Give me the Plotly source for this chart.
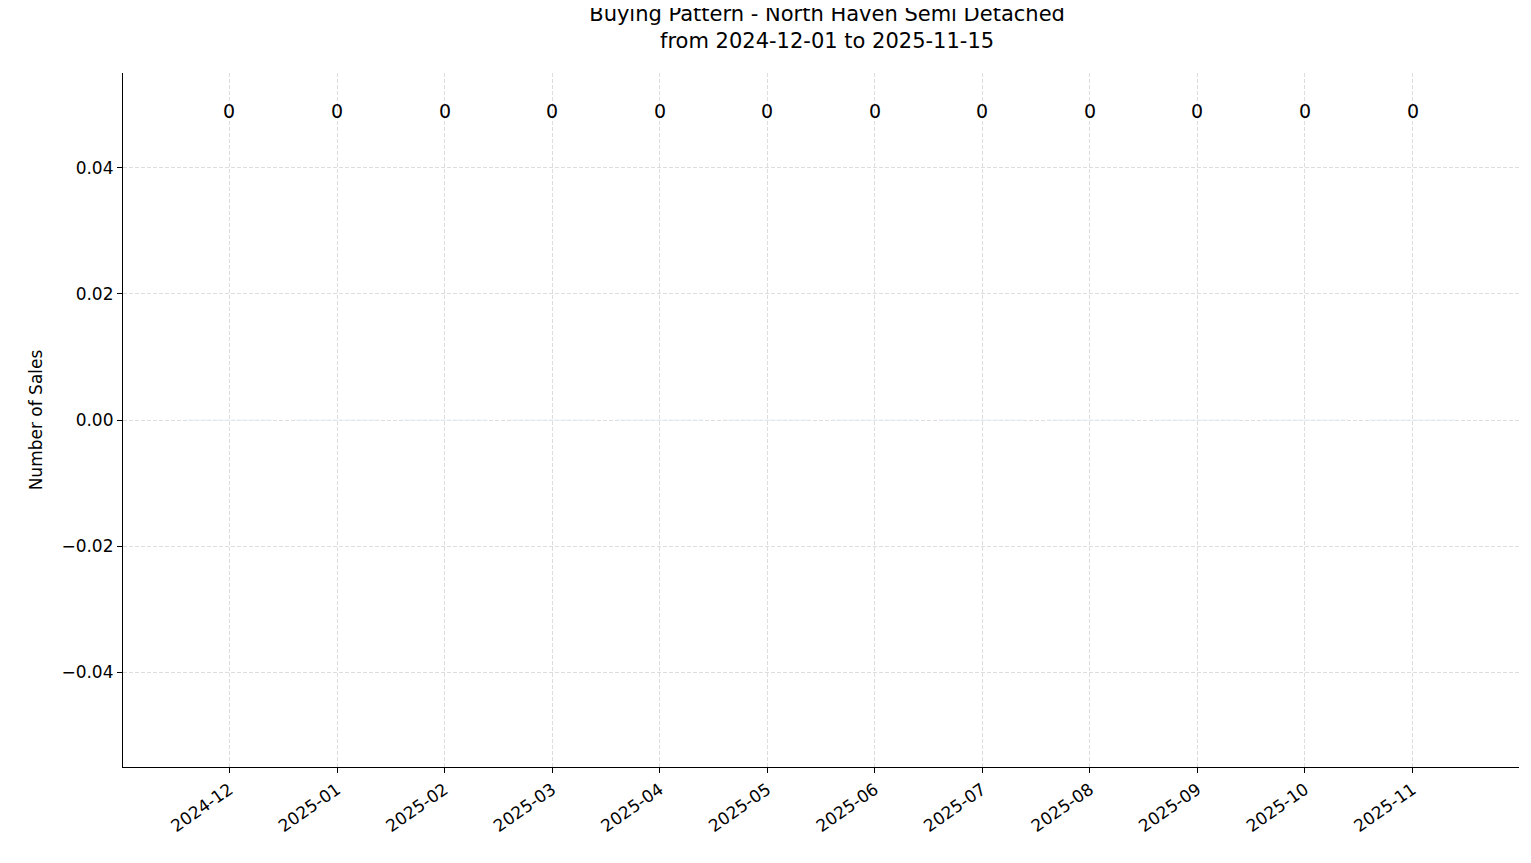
import plotly.graph_objects as go

months = ["2024-12", "2025-01", "2025-02", "2025-03", "2025-04", "2025-05",
          "2025-06", "2025-07", "2025-08", "2025-09", "2025-10", "2025-11"]
sales = [0, 0, 0, 0, 0, 0, 0, 0, 0, 0, 0, 0]

font = dict(family="DejaVu Sans", size=17, color="black")
fig = go.Figure()
fig.add_bar(x=list(range(len(months))), y=sales, marker_color="#1f77b4", width=0.8)

# count labels above the plot (matplotlib-style bar labels)
for i, v in enumerate(sales):
    fig.add_annotation(x=i, y=0.964, yref="paper", text=str(v), showarrow=False,
                       font=dict(family="DejaVu Sans", size=19, color="black"))

axis_common = dict(showline=True, linecolor="black", linewidth=1.2, ticks="outside",
                   ticklen=5, tickcolor="black", tickfont=font, zeroline=False,
                   showgrid=True, gridcolor="#dddddd", griddash="4px,2px", gridwidth=0.8)
fig.update_xaxes(tickmode="array", tickvals=list(range(len(months))), ticktext=months,
                 tickangle=-35, range=[-0.99, 11.99], **axis_common)
fig.update_yaxes(range=[-0.055, 0.055], tickvals=[-0.04, -0.02, 0, 0.02, 0.04],
                 ticktext=["\u22120.04", "\u22120.02", "0.00", "0.02", "0.04"],
                 title=dict(text="Number of Sales", font=font, standoff=14), **axis_common)
fig.update_layout(
    width=1531, height=863, plot_bgcolor="white", paper_bgcolor="white",
    margin=dict(l=115, r=20, t=65, b=104), showlegend=False,
    title=dict(text="Buying Pattern - North Haven Semi Detached<br>from 2024-12-01 to 2025-11-15",
               x=0.535, xanchor="center", y=0.985, yanchor="top",
               font=dict(family="DejaVu Sans", size=21, color="black")),
)
fig.write_html("out.html")
